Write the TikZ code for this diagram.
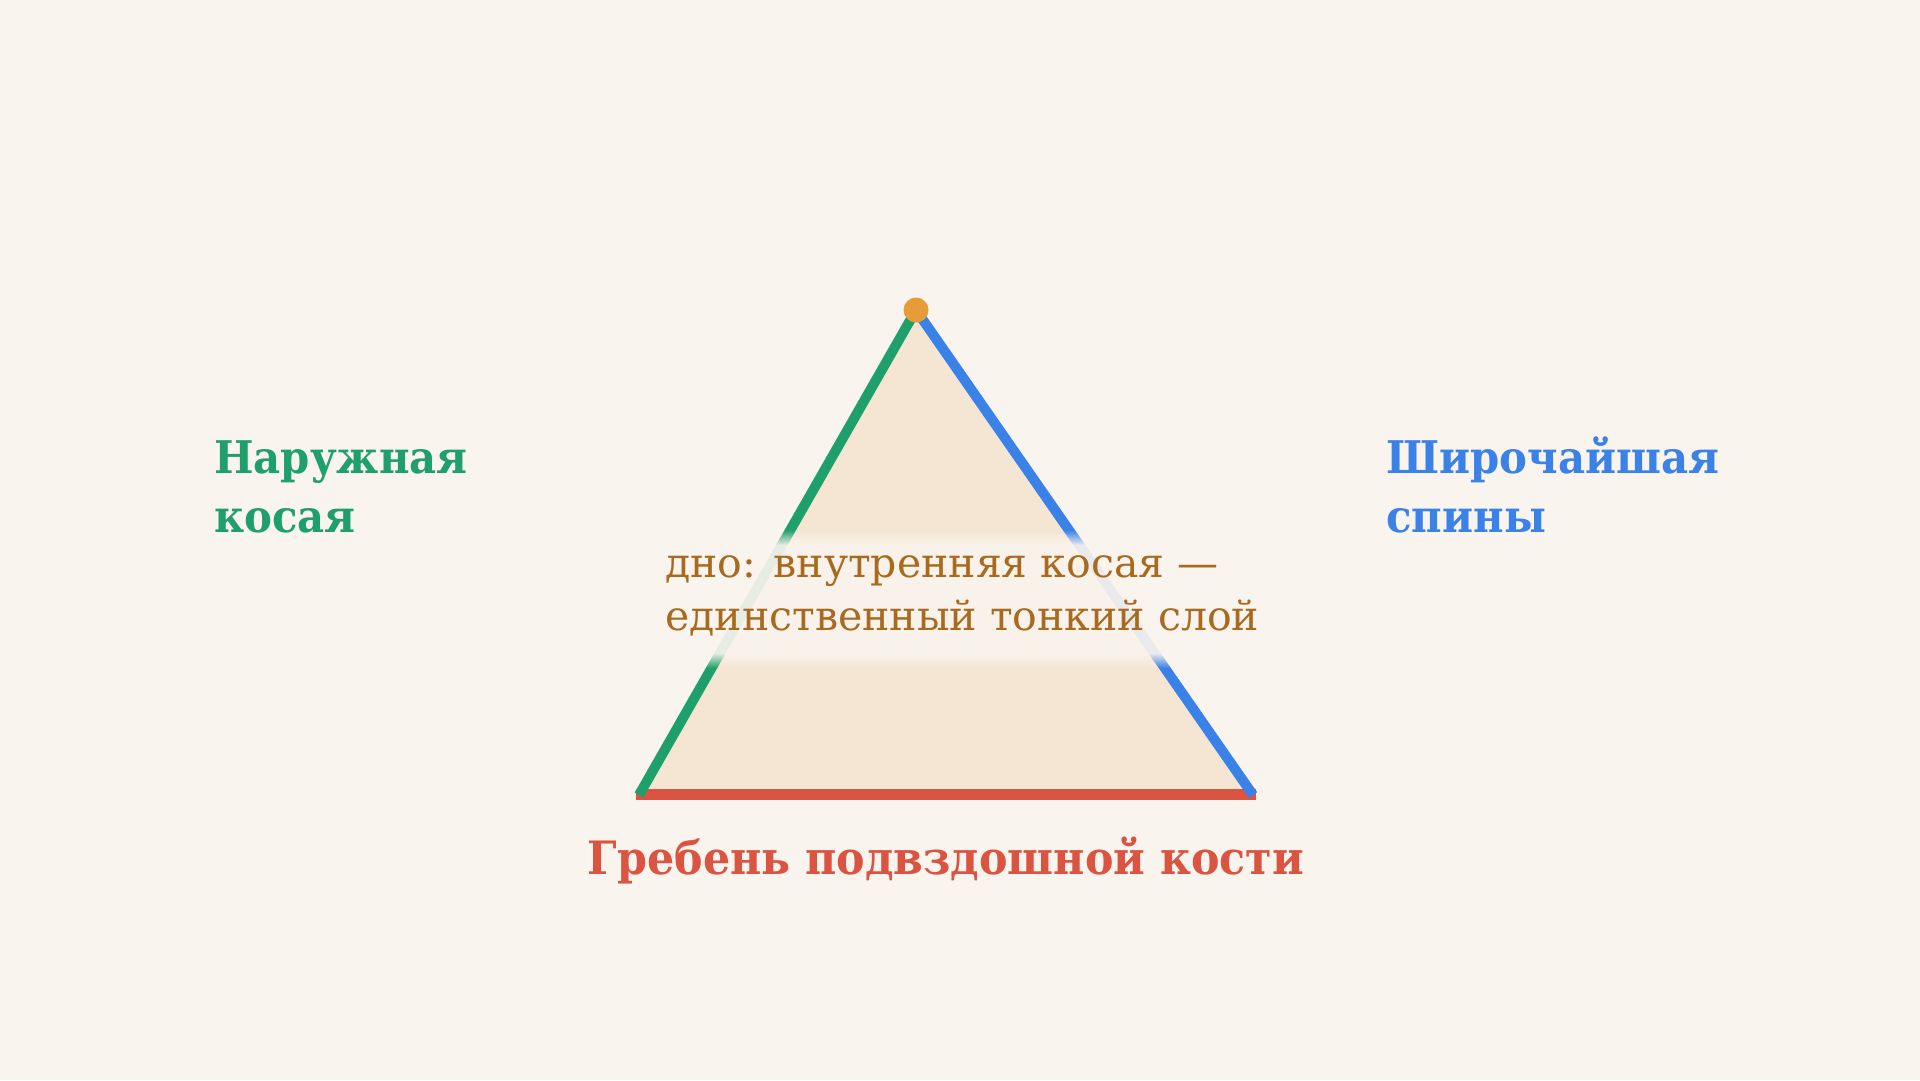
\documentclass[tikz,border=0pt]{standalone}
\usepackage{fontspec}
\setmainfont{DejaVu Serif}
\newfontfamily\labelfont{DejaVu Serif}[FakeStretch=0.93]
\usetikzlibrary{fadings}
\definecolor{bgcol}{HTML}{FAF4EE}
\definecolor{fillcol}{HTML}{F5E6D3}
\definecolor{greencol}{HTML}{1FA06B}
\definecolor{bluecol}{HTML}{3A81E8}
\definecolor{redcol}{HTML}{DA5441}
\definecolor{dotcol}{HTML}{E89C38}
\definecolor{browncol}{HTML}{A86A1E}
\tikzset{
	sidelabel/.style={anchor=base west, inner sep=0pt, align=left, font=\labelfont\bfseries\fontsize{45}{59}\selectfont},
	band/.style={fill=bgcol, fill opacity=0.92}
}
\begin{document}
\begin{tikzpicture}[x=1pt,y=-1pt]
	\fill[bgcol] (0,0) rectangle (1920,1080);
	\useasboundingbox (0,0) rectangle (1920,1080);
	\coordinate (top) at (916,310);
	\coordinate (left) at (639,795);
	\coordinate (right) at (1253,795);
	\fill[fillcol] (top) -- (left) -- (right) -- cycle;
	\draw[redcol, line width=11pt] ([xshift=-3pt,yshift=1pt]left) -- ([xshift=3pt,yshift=1pt]right);
	\draw[greencol, line width=10pt] (left) -- (top);
	\draw[bluecol, line width=10pt] (top) -- (right);
	\node[circle, fill=dotcol, minimum size=25pt, inner sep=0pt] (1) at (top) {};
	% band behind the middle text
	\fill[band, path fading=north] (648,530) rectangle (1272,545);
	\fill[band] (648,545) rectangle (1272,653);
	\fill[band, path fading=south] (648,653) rectangle (1272,668);
	\node[anchor=base west, inner sep=0pt, align=left, text=browncol, font=\fontsize{41}{53}\selectfont] (2) at (665,630) {дно: внутренняя косая —\\единственный тонкий слой};
	\node[sidelabel, text=greencol] (3) at (214,532) {Наружная\\косая};
	\node[sidelabel, text=bluecol] (4) at (1386,532) {Широчайшая\\спины};
	\node[anchor=base, inner sep=0pt, text=redcol, font=\labelfont\bfseries\fontsize{46}{55}\selectfont] (5) at (946,874) {Гребень подвздошной кости};
\end{tikzpicture}
\end{document}
